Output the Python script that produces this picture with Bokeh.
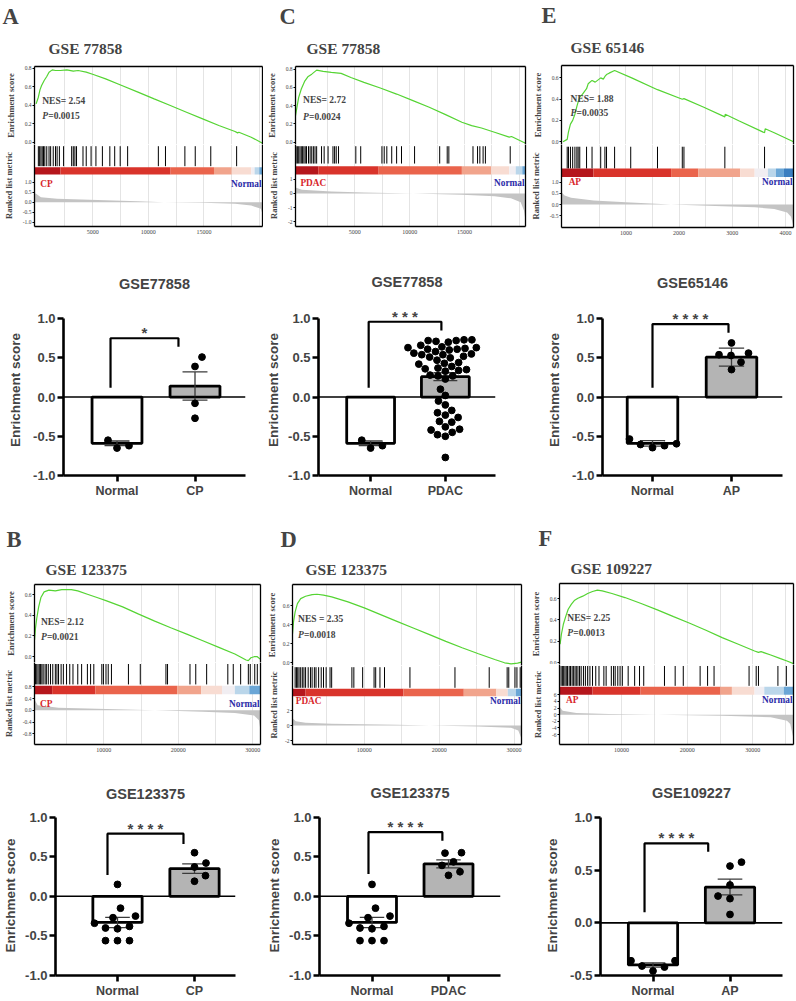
import math
from bokeh.plotting import figure
from bokeh.layouts import row, column
from bokeh.models import (Range1d, LinearAxis, FixedTicker, Title, Label, Grid, Span,
                          PrintfTickFormatter)
from bokeh.embed import file_html
from bokeh.resources import INLINE

# ======================= DATA =======================
# --- GSEA panel A (GSE 77858, CP vs Normal)
A_es_x = [-87, 116, 262, 407, 640, 872, 1076, 1366, 1657, 2093, 2674, 3256, 3692, 4419, 5058, 6163, 7616,
          9070, 10523, 11977, 13430, 14884, 16337, 17791, 18024, 18140, 19244, 20262]
A_es_y = [0.414, 0.486, 0.566, 0.613, 0.667, 0.710, 0.757, 0.782, 0.775, 0.775, 0.782, 0.768, 0.775, 0.757,
          0.732, 0.685, 0.613, 0.541, 0.468, 0.396, 0.324, 0.252, 0.180, 0.115, 0.101, 0.108, 0.054, -0.011]
A_hits = [116, 233, 349, 465, 581, 698, 872, 1076, 1221, 1454, 1657, 1802, 2006, 2384, 3110, 3256, 3401, 3547,
          4128, 4419, 4855, 5291, 5872, 6541, 6977, 7471, 8140, 10901, 11541, 13285, 14215, 15611, 17936]
A_rank_x = [-230, -87, 349, 1802, 4709, 9070, 11395, 14884, 17791, 19244, 20116, 20262]
A_rank_y = [0.45, 0.42, 0.25, 0.17, 0.12, 0.05, 0.0, -0.03, -0.08, -0.17, -0.33, -0.6]
A_cb_edges = [-230, 2100, 12000, 15900, 17500, 19250, 19550, 19970, 20260]

# --- GSEA panel C (GSE 77858, PDAC vs Normal)
C_es_x = [-410, -268, -119, 119, 417, 714, 1071, 1518, 2113, 2857, 3750, 4643, 5833, 7321, 8809, 10297,
          11785, 13273, 14761, 15654, 16547, 17737, 19076, 19284, 20560]
C_es_y = [0.291, 0.389, 0.491, 0.582, 0.665, 0.716, 0.745, 0.789, 0.775, 0.764, 0.753, 0.709, 0.655, 0.593,
          0.527, 0.455, 0.382, 0.302, 0.218, 0.182, 0.156, 0.109, 0.055, 0.062, -0.011]
C_hits = [-357, -238, -119, 0, 119, 238, 357, 476, 595, 774, 923, 1071, 1220, 1369, 1518, 1964, 2202, 2559,
          3006, 3155, 3303, 3512, 5089, 5535, 7470, 7678, 7916, 8363, 8809, 9255, 10446, 12737, 13422, 13571,
          15773, 16189, 16398, 16695, 16904, 19166]
C_rank_x = [-410, 180, 2860, 5830, 10300, 14760, 17740, 19230, 20120, 20420, 20560]
C_rank_y = [0.42, 0.26, 0.14, 0.07, 0.0, -0.09, -0.2, -0.35, -0.63, -1.2, -1.9]
C_cb_edges = [-410, 1670, 7170, 14760, 17440, 19080, 19670, 20270, 20560]

# --- GSEA panel E (GSE 65146, AP vs Normal)
E_es_x = [-182, -103, -79, -42, 0, 42, 79, 103, 133, 182, 261, 291, 364, 424, 527, 576, 606, 636, 685, 788,
          1109, 1594, 2060, 2091, 2454, 2860, 2866, 3121, 3606, 3618, 3788, 4150]
E_es_y = [0.0, 0.022, 0.093, 0.165, 0.20, 0.258, 0.332, 0.373, 0.419, 0.444, 0.497, 0.543, 0.575, 0.559,
          0.599, 0.587, 0.612, 0.630, 0.643, 0.668, 0.599, 0.488, 0.398, 0.404, 0.326, 0.233, 0.258, 0.196,
          0.084, 0.121, 0.084, 0.0]
E_hits = [-103, -79, -42, 0, 42, 79, 103, 133, 261, 364, 527, 606, 636, 788, 1091, 1594, 2060, 2091, 2860, 3606]
E_rank_x = [-210, -152, -30, 394, 1000, 1848, 2818, 3424, 3788, 4030, 4103, 4150]
E_rank_y = [0.55, 0.4, 0.3, 0.18, 0.1, 0.0, -0.075, -0.12, -0.2, -0.35, -0.54, -1.0]
E_cb_edges = [-210, 390, 1850, 2360, 3150, 3420, 3670, 3820, 3970, 4150]

# --- GSEA panel B (GSE 123375, CP vs Normal)
B_es_x = [710, 839, 1011, 1269, 1570, 2000, 2645, 3505, 4366, 5656, 6516, 7806, 9097, 10387, 12538, 14688,
          16839, 18989, 21140, 23290, 25441, 27591, 29097, 29398, 29742, 30172, 30602, 31030]
B_es_y = [0.160, 0.273, 0.369, 0.481, 0.571, 0.626, 0.642, 0.635, 0.648, 0.648, 0.635, 0.603, 0.571, 0.539,
          0.481, 0.411, 0.343, 0.279, 0.218, 0.154, 0.090, 0.026, -0.032, -0.038, -0.010, 0.0, 0.0, -0.026]
B_hits = [839, 1011, 1183, 1355, 1527, 1699, 1871, 2129, 2301, 2559, 2860, 3161, 3505, 3720, 3935, 4280, 4581,
          5011, 5441, 5871, 6516, 7032, 7806, 8236, 8667, 9742, 9957, 10301, 10602, 11032, 13312, 14903, 18344,
          18559, 21570, 22344, 23806, 26645, 27376, 28366, 29398, 29656, 30258, 30602]
B_rank_x = [710, 1140, 3935, 10387, 16839, 23290, 27591, 30172, 30817, 31030]
B_rank_y = [0.37, 0.17, 0.09, 0.046, 0.0, -0.046, -0.09, -0.18, -0.34, -0.69]
B_cb_edges = [710, 3080, 8880, 19850, 23080, 25870, 27590, 29530, 31030]

# --- GSEA panel D (GSE 123375, PDAC vs Normal)
D_es_x = [414, 544, 762, 1068, 1503, 2157, 3028, 3682, 4553, 5642, 7820, 10000, 12180, 14358, 16537, 18715,
          20893, 23072, 25250, 27428, 28736, 29607, 30478, 31000]
D_es_y = [0.307, 0.431, 0.537, 0.625, 0.678, 0.703, 0.721, 0.724, 0.714, 0.696, 0.643, 0.580, 0.509, 0.438,
          0.367, 0.297, 0.226, 0.159, 0.095, 0.035, 0.0, -0.011, -0.004, 0.007]
D_hits = [762, 936, 1111, 1285, 1503, 1721, 1939, 2157, 2505, 2810, 3028, 3333, 3551, 3900, 4248, 4553, 4902,
          5425, 5642, 8344, 8605, 9781, 11306, 11524, 12090, 12700, 16099, 22111, 26686, 29082, 29300, 30128,
          30389, 30825]
D_rank_x = [414, 850, 2157, 5642, 14358, 18715, 25250, 29607, 30566, 31000]
D_rank_y = [0.98, 0.58, 0.36, 0.22, 0.09, 0.0, -0.13, -0.31, -0.67, -1.78]
D_cb_edges = [410, 2160, 15230, 23290, 27640, 29170, 30260, 31000]

# --- GSEA panel F (GSE 109227, AP vs Normal)
F_es_x = [642, 839, 1136, 1530, 1876, 2369, 2863, 3357, 4097, 4838, 5578, 6318, 7059, 8540, 10515, 12983,
          15452, 17920, 20388, 22857, 25325, 27793, 30262, 30854, 31249, 32730, 34210, 35198, 36185]
F_es_y = [0.172, 0.266, 0.359, 0.438, 0.50, 0.547, 0.584, 0.603, 0.622, 0.647, 0.666, 0.678, 0.672, 0.647,
          0.609, 0.553, 0.494, 0.431, 0.369, 0.303, 0.234, 0.172, 0.109, 0.097, 0.103, 0.072, 0.038, 0.016, -0.009]
F_hits = [790, 988, 1185, 1382, 1580, 1777, 2024, 2221, 2468, 2665, 2912, 3110, 3357, 3604, 3850, 4196, 4492,
          4838, 5184, 5579, 6073, 6566, 7307, 7652, 8442, 8787, 9034, 9429, 9775, 10120, 11009, 11996, 12737,
          13379, 16538, 18167, 19401, 21968, 23104, 24091, 29422, 30508, 30854, 33816, 35100]
F_rank_x = [550, 642, 1037, 3110, 8047, 15452, 25325, 32730, 35198, 35692, 36185]
F_rank_y = [2.4, 2.2, 1.2, 0.5, 0.2, 0.0, -0.3, -0.8, -1.8, -2.8, -7.3]
F_cb_edges = [550, 5580, 12890, 25080, 26810, 30260, 31740, 34710, 36190]

NES = {"A": "2.54", "C": "2.72", "E": "1.88", "B": "2.12", "D": "2.35", "F": "2.25"}
PVAL = {"A": "0.0015", "C": "0.0024", "E": "0.0035", "B": "0.0021", "D": "0.0018", "F": "0.0013"}

# --- Bar charts: enrichment score per sample
A_normal = [-0.65, -0.55, -0.62]
A_cp = [0.51, 0.39, -0.08, -0.27]
A_means = [-0.59, 0.14]
A_err = [0.03, 0.18]

C_normal = [-0.65, -0.55, -0.62]
C_pdac = [0.73, 0.73, 0.72, 0.72, 0.71, 0.70, 0.66, 0.64, 0.63, 0.63, 0.62, 0.61, 0.61, 0.60, 0.58, 0.56,
          0.55, 0.54, 0.54, 0.52, 0.51, 0.50, 0.47, 0.44, 0.43, 0.42, 0.39, 0.37, 0.36, 0.35, 0.34, 0.33,
          0.28, 0.27, 0.27, 0.23, 0.10, 0.02, -0.05, -0.10, -0.17, -0.20, -0.23, -0.26, -0.31, -0.32, -0.38,
          -0.41, -0.42, -0.45, -0.48, -0.50, -0.77]
C_means = [-0.59, 0.26]
C_err = [0.03, 0.05]

E_normal = [-0.535, -0.645, -0.595, -0.62, -0.605]
E_ap = [0.69, 0.54, 0.56, 0.53, 0.445, 0.35]
E_means = [-0.59, 0.51]
E_err = [0.035, 0.115]

B_normal = [-0.27, -0.41, -0.56, -0.25, -0.38, 0.15, -0.15, -0.34, -0.56, -0.40, -0.56]
B_cp = [0.19, 0.42, 0.55, 0.37, 0.26]
B_means = [-0.33, 0.35]
B_err = [0.065, 0.06]

D_normal = [-0.27, -0.41, -0.56, -0.25, -0.38, 0.15, -0.15, -0.34, -0.56, -0.40, -0.56]
D_pdac = [0.55, 0.265, 0.39, 0.545, 0.435, 0.31]
D_means = [-0.33, 0.41]
D_err = [0.065, 0.05]

F_normal = [-0.36, -0.457, -0.36, -0.42, -0.41]
F_ap = [0.577, 0.54, 0.36, 0.255, 0.23, 0.08]
F_means = [-0.40, 0.34]
F_err = [0.02, 0.075]

# ======================= STYLE / LAYOUT =======================
S = 1.0
SERIF = "Liberation Serif"
SANS = "Liberation Sans"
TITLE_SHIFT = 7   # bokeh pads left-aligned titles by a few px


def fs(v):
    return f"{v * S:.1f}px"


def R(v):
    return int(round(v * S))


DR, RD, LR, SA, PA, WH, LB, MB, BL = ("#b5161c", "#d9342b", "#ea644c", "#f1a48c", "#f8dcd2",
                                      "#f1eef2", "#bad6ea", "#6aa6d6", "#3b7fc0")
GREEN = "#55d433"
UPRED = "#d8262b"
DNBLUE = "#2a2aa8"


def edge_axis(p, side, lo, hi):
    ax = LinearAxis(ticker=FixedTicker(ticks=[(lo + hi) / 2.0]), major_tick_out=0, major_tick_in=0,
                    minor_tick_out=0, minor_tick_in=0, major_label_text_font_size="1px",
                    major_label_text_alpha=0, major_label_standoff=0, axis_line_width=1.3,
                    axis_line_color="black")
    p.add_layout(ax, side)


def style_gsea_y(ax, ticks, fmt, label, standoff):
    ax.ticker = FixedTicker(ticks=ticks)
    ax.formatter = PrintfTickFormatter(format=fmt)
    ax.major_label_text_font = SERIF
    ax.major_label_text_font_size = fs(5.5)
    ax.major_tick_out = 2
    ax.major_tick_in = 0
    ax.minor_tick_out = 0
    ax.minor_tick_in = 0
    ax.major_label_standoff = 1
    ax.axis_line_width = 1.3
    ax.axis_label = label
    ax.axis_label_text_font = SERIF
    ax.axis_label_text_font_style = "bold"
    ax.axis_label_text_font_size = fs(8.5)
    ax.axis_label_standoff = standoff


def gsea_panel(g):
    (cx0, cx1), (cy0, cy1) = g["cell_x"], g["cell_y"]
    W = R(cx1) - R(cx0)
    Hrow = R(cy1) - R(cy0)
    top_h = R(g["split"]) - R(cy0)
    bot_h = Hrow - top_h
    bl = R(g["box_l"]) - R(cx0)
    br = R(cx1) - R(g["box_r"])
    bt = R(g["box_top"]) - R(cy0)
    bb = R(cy1) - R(g["box_bot"])
    es0, esp = g["es0"], g["es_ppu"]
    r0, rp = g["rank0"], g["rank_ppu"]
    x0, x1 = g["xr"]

    def xd(px):
        return x0 + (px - g["box_l"]) / (g["box_r"] - g["box_l"]) * (x1 - x0)

    def ye(py):
        return (es0 - py) / esp

    def yr(py):
        return (r0 - py) / rp

    xrng = Range1d(x0, x1)
    grid_ticks = [v for v in range(g["grid_step"], int(x1), g["grid_step"])]
    es_lo, es_hi = ye(g["split"]), ye(g["box_top"])
    rk_lo, rk_hi = yr(g["box_bot"]), yr(g["split"])

    # ---- top: running enrichment score
    p = figure(width=W, height=top_h, x_range=xrng, y_range=Range1d(es_lo, es_hi),
               title=None, min_border_left=bl, min_border_right=br, min_border_top=bt, min_border_bottom=0,
               toolbar_location=None, output_backend="svg", x_axis_location=None,
               outline_line_color=None)
    p.grid.visible = False
    p.add_layout(Grid(dimension=0, ticker=FixedTicker(ticks=grid_ticks), grid_line_color="#e4e4e4",
                      grid_line_width=1))
    style_gsea_y(p.yaxis[0], g["es_ticks"], "%.1f", "Enrichment score", g["lab_standoff"])
    edge_axis(p, "right", es_lo, es_hi)
    edge_axis(p, "above", x0, x1)
    p.add_layout(Title(text=g["title"], align="left", offset=R(g["title_x"] - g["box_l"]) - TITLE_SHIFT,
                       text_font=SERIF, text_font_style="bold", text_font_size=fs(15.5),
                       standoff=g["title_standoff"]), "above")
    p.add_layout(Title(text=g["letter"], align="left", offset=R(g["letter_x"] - g["box_l"]) - TITLE_SHIFT,
                       text_font=SERIF, text_font_style="bold", text_font_size=fs(22.5),
                       standoff=g["letter_standoff"]), "above")
    p.line(g["es_x"], g["es_y"], line_color=GREEN, line_width=1.2)
    nx, ny = g["nes_px"]
    p.add_layout(Label(x=xd(nx), y=ye(ny), text=g["nes_text"] + NES[g["letter"]], text_font=SERIF,
                       text_font_style="bold", text_font_size=fs(9.5), text_baseline="middle"))
    px_, py_ = g["p_px"]
    p.add_layout(Label(x=xd(px_), y=ye(py_), text="P", text_font=SERIF, text_font_style="bold italic",
                       text_font_size=fs(9.5), text_baseline="middle"))
    p.add_layout(Label(x=xd(px_), y=ye(py_), x_offset=R(5.8), text="=" + PVAL[g["letter"]], text_font=SERIF,
                       text_font_style="bold", text_font_size=fs(9.5), text_baseline="middle"))

    # ---- bottom: hits, colour bar, ranked list metric
    q = figure(width=W, height=bot_h, x_range=xrng, y_range=Range1d(rk_lo, rk_hi),
               title=None, min_border_left=bl, min_border_right=br, min_border_top=0, min_border_bottom=bb,
               toolbar_location=None, output_backend="svg", outline_line_color=None)
    q.grid.visible = False
    q.add_layout(Grid(dimension=0, ticker=FixedTicker(ticks=grid_ticks), grid_line_color="#e4e4e4",
                      grid_line_width=1))
    q.varea(x=g["rank_x"], y1=0, y2=g["rank_y"], fill_color="#c4c4c4")
    hits = g["hits"]
    q.segment(x0=hits, y0=[yr(g["hit_bot"])] * len(hits), x1=hits, y1=[yr(g["hit_top"])] * len(hits),
              line_color="black", line_width=1)
    edges = g["cb_edges"]
    q.quad(left=edges[:-1], right=edges[1:], bottom=yr(g["cb_bot"]), top=yr(g["cb_top"]),
           fill_color=g["cb_colors"], line_color=None)
    xa = q.xaxis[0]
    xa.ticker = FixedTicker(ticks=g["x_ticks"])
    xa.formatter = PrintfTickFormatter(format="%d")
    xa.major_label_text_font = SERIF
    xa.major_label_text_font_size = fs(6)
    xa.major_tick_out = 0
    xa.major_tick_in = 0
    xa.minor_tick_out = 0
    xa.minor_tick_in = 0
    xa.major_label_standoff = 3
    xa.axis_line_width = 1.3
    style_gsea_y(q.yaxis[0], g["rank_ticks"], g["rank_fmt"], "Ranked list metric", g["lab_standoff"])
    edge_axis(q, "right", rk_lo, rk_hi)
    ux, uy = g["up_px"]
    q.add_layout(Label(x=xd(ux), y=yr(uy), text=g["up"], text_font=SERIF, text_font_style="bold",
                       text_font_size=fs(9.3), text_color=UPRED, text_baseline="middle"))
    q.add_layout(Label(x=x1, y=yr(uy), x_offset=-1, text="Normal", text_font=SERIF, text_font_style="bold",
                       text_font_size=fs(9.3), text_color=DNBLUE, text_baseline="middle", text_align="right"))
    return column(p, q, spacing=0)


def swarm(vals, ppy, ppx, d=8.0):
    idx = sorted(range(len(vals)), key=lambda i: vals[i])
    placed = []
    offs = [0.0] * len(vals)
    for n, i in enumerate(idx):
        y = vals[i] * ppy
        k = 0
        best = None
        while best is None:
            if k == 0:
                cands = [0.0]
            else:
                cands = [k * 0.5, -k * 0.5] if n % 2 else [-k * 0.5, k * 0.5]
            for c in cands:
                if all((c - a) ** 2 + (y - b) ** 2 >= d * d - 1e-6 for a, b in placed):
                    best = c
                    break
            k += 1
        placed.append((best, y))
        offs[i] = best / ppx
    return offs


def bar_panel(b):
    (cx0, cx1), (cy0, cy1) = b["cell_x"], b["cell_y"]
    W = R(cx1) - R(cx0)
    H = R(cy1) - R(cy0)
    ppy = b["ppu"]
    ylo, yhi = b["ylim"]
    ftop = b["y1px"] - (yhi - 1.0) * ppy
    fbot = b["y1px"] + (1.0 - ylo) * ppy
    bl = R(b["axis_x"]) - R(cx0)
    br = R(cx1) - R(b["frame_r"])
    bt = R(ftop) - R(cy0)
    bb = R(cy1) - R(fbot)
    c1, c2 = b["cx"]
    ppx = c2 - c1
    xs = 1 - (c1 - b["axis_x"]) / ppx
    xe = 2 + (b["frame_r"] - c2) / ppx
    title_fs = 14.5
    # title text is centred in its panel (panel height = standoff + text height)
    t_standoff = max(0, int(round(2 * (ftop - b["title_y"]) - 1.11 * title_fs)))

    p = figure(width=W, height=H, x_range=Range1d(xs, xe), y_range=Range1d(ylo, yhi), title=None,
               min_border_left=bl, min_border_right=br, min_border_top=bt, min_border_bottom=bb,
               toolbar_location=None, output_backend="svg", outline_line_color=None)
    p.grid.visible = False
    p.add_layout(Title(text=b["title"], align="center", text_font=SANS, text_font_style="bold",
                       text_font_size=fs(title_fs), standoff=t_standoff), "above")
    ya = p.yaxis[0]
    ya.ticker = FixedTicker(ticks=b["yticks"])
    ya.formatter = PrintfTickFormatter(format="%.1f")
    ya.bounds = (ylo, 1.0)
    ya.axis_line_width = 2.6
    ya.major_tick_line_width = 2.6
    ya.major_tick_out = 6
    ya.major_tick_in = 0
    ya.minor_tick_out = 0
    ya.minor_tick_in = 0
    ya.major_label_text_font = SANS
    ya.major_label_text_font_style = "bold"
    ya.major_label_text_font_size = fs(13)
    ya.major_label_standoff = 2
    ya.axis_label = "Enrichment score"
    ya.axis_label_text_font = SANS
    ya.axis_label_text_font_style = "bold"
    ya.axis_label_text_font_size = fs(13.5)
    ya.axis_label_standoff = b["lab_standoff"]
    xa = p.xaxis[0]
    xa.ticker = FixedTicker(ticks=[1, 2])
    xa.major_label_overrides = {1: b["cats"][0], 2: b["cats"][1]}
    xa.axis_line_width = 2.6
    xa.major_tick_line_width = 2.6
    xa.major_tick_out = 6
    xa.major_tick_in = 0
    xa.minor_tick_out = 0
    xa.minor_tick_in = 0
    xa.major_label_text_font = SANS
    xa.major_label_text_font_style = "bold"
    xa.major_label_text_font_size = fs(12.5)
    xa.major_label_standoff = 2

    p.add_layout(Span(location=0, dimension="width", line_color="black", line_width=1.6))
    means, errs = b["means"], b["errs"]
    p.vbar(x=[1, 2], top=means, bottom=0, width=0.64, fill_color=["white", "#b4b4b4"],
           line_color="black", line_width=2.8)
    lo = [m - e for m, e in zip(means, errs)]
    hi = [m + e for m, e in zip(means, errs)]
    p.segment(x0=[1, 2], y0=lo, x1=[1, 2], y1=hi, line_color="#3a3a3a", line_width=1.3)
    cw = 0.16
    for yy in (lo, hi):
        p.segment(x0=[1 - cw, 2 - cw], y0=yy, x1=[1 + cw, 2 + cw], y1=yy, line_color="#3a3a3a",
                  line_width=1.3)
    for k, vals in enumerate(b["groups"]):
        spacing = 12.0 if len(vals) < 15 else 8.0
        offs = swarm(vals, ppy, ppx, d=spacing)
        p.scatter([k + 1 + o for o in offs], vals, size=6.8 * S, fill_color="black", line_color="black")
    xl, xr_, yl, yt, yrr = b["bracket"]
    p.line([xl, xl, xr_, xr_], [yl, yt, yt, yrr], line_color="black", line_width=2.2)
    p.add_layout(Label(x=(xl + xr_) / 2, y=b["star_y"], y_offset=-3, text=b["stars"], text_align="center",
                       text_baseline="middle", text_font=SANS, text_font_style="bold",
                       text_font_size=fs(15)))
    return p


COLS = [0, 263, 527, 796]
ROWS = [0, 240, 503, 762, 1000]

# title text is centred in a panel of height standoff + ~1.11*fontsize stacked above the frame
gA = dict(letter="A", title="GSE 77858", up="CP", cell_x=(COLS[0], COLS[1]), cell_y=(ROWS[0], ROWS[1]),
          box_l=27, box_r=262, box_top=66, split=144, box_bot=226, es0=141.7, es_ppu=92.5,
          hit_top=145.7, hit_bot=165.7, cb_top=166.7, cb_bot=174, rank0=201.7, rank_ppu=20,
          xr=(-230, 20260), es_ticks=[0, 0.2, 0.4, 0.6, 0.8], rank_ticks=[-1, -0.5, 0, 0.5, 1], rank_fmt="%.1f",
          x_ticks=[5000, 10000, 15000], grid_step=2500, title_x=48, letter_x=2, title_standoff=19,
          letter_standoff=0, nes_px=(35, 100), p_px=(35, 115), up_px=(33, 183), nes_text="NES= ",
          lab_standoff=6, es_x=A_es_x, es_y=A_es_y, hits=A_hits, rank_x=A_rank_x, rank_y=A_rank_y,
          cb_edges=A_cb_edges, cb_colors=[DR, RD, LR, SA, PA, WH, LB, MB])
gC = dict(letter="C", title="GSE 77858", up="PDAC", cell_x=(COLS[1], COLS[2]), cell_y=(ROWS[0], ROWS[1]),
          box_l=290, box_r=525, box_top=65.7, split=144, box_bot=225.7, es0=141.7, es_ppu=91.7,
          hit_top=145.7, hit_bot=163, cb_top=165.7, cb_bot=174, rank0=192.7, rank_ppu=14.17,
          xr=(-410, 20560), es_ticks=[0, 0.2, 0.4, 0.6, 0.8], rank_ticks=[-2, -1, 0, 1], rank_fmt="%d",
          x_ticks=[5000, 10000, 15000], grid_step=2500, title_x=308.3, letter_x=280.7, title_standoff=19,
          letter_standoff=0, nes_px=(297.7, 99.3), p_px=(297.7, 116), up_px=(295, 182.7), nes_text="NES= ",
          lab_standoff=6, es_x=C_es_x, es_y=C_es_y, hits=C_hits, rank_x=C_rank_x, rank_y=C_rank_y,
          cb_edges=C_cb_edges, cb_colors=[DR, RD, LR, SA, PA, WH, LB, MB])
gE = dict(letter="E", title="GSE 65146", up="AP", cell_x=(COLS[2], COLS[3]), cell_y=(ROWS[0], ROWS[1]),
          box_l=553.3, box_r=793.3, box_top=65, split=144.5, box_bot=226.7, es0=141.7, es_ppu=107.3,
          hit_top=146.7, hit_bot=168.3, cb_top=168.3, cb_bot=176.7, rank0=204, rank_ppu=22.2,
          xr=(-210, 4150), es_ticks=[0, 0.2, 0.4, 0.6], rank_ticks=[-0.5, 0, 0.5, 1], rank_fmt="%.1f",
          x_ticks=[1000, 2000, 3000, 4000], grid_step=500, title_x=569.3, letter_x=540, title_standoff=19,
          letter_standoff=0, nes_px=(562.7, 98.3), p_px=(562.7, 113.3), up_px=(560.7, 181.7), nes_text="NES= ",
          lab_standoff=6, es_x=E_es_x, es_y=E_es_y, hits=E_hits, rank_x=E_rank_x, rank_y=E_rank_y,
          cb_edges=E_cb_edges, cb_colors=[DR, RD, LR, SA, PA, WH, LB, MB, BL])
gB = dict(letter="B", title="GSE 123375", up="CP", cell_x=(COLS[0], COLS[1]), cell_y=(ROWS[2], ROWS[3]),
          box_l=25, box_r=260, box_top=584.3, split=662.5, box_bot=744, es0=656.7, es_ppu=103.9,
          hit_top=664, hit_bot=684.3, cb_top=685.7, cb_bot=694, rank0=710, rank_ppu=29.2,
          xr=(710, 31030), es_ticks=[0, 0.2, 0.4, 0.6], rank_ticks=[-0.8, -0.4, 0, 0.4, 0.8], rank_fmt="%.1f",
          x_ticks=[10000, 20000, 30000], grid_step=5000, title_x=42.7, letter_x=4, title_standoff=14,
          letter_standoff=0, nes_px=(31.7, 622.3), p_px=(31.7, 636.7), up_px=(30.7, 703.3), nes_text="NES= ",
          lab_standoff=6, es_x=B_es_x, es_y=B_es_y, hits=B_hits, rank_x=B_rank_x, rank_y=B_rank_y,
          cb_edges=B_cb_edges, cb_colors=[DR, RD, LR, SA, PA, WH, LB, MB])
gD = dict(letter="D", title="GSE 123375", up="PDAC", cell_x=(COLS[1], COLS[2]), cell_y=(ROWS[2], ROWS[3]),
          box_l=286, box_r=520.7, box_top=584.3, split=665, box_bot=744, es0=662.3, es_ppu=94.3,
          hit_top=666.7, hit_bot=687.3, cb_top=688.3, cb_bot=695.7, rank0=725, rank_ppu=7.5,
          xr=(410, 31000), es_ticks=[0, 0.2, 0.4, 0.6], rank_ticks=[-2, 0, 2], rank_fmt="%d",
          x_ticks=[10000, 20000, 30000], grid_step=5000, title_x=305.7, letter_x=280.7, title_standoff=14,
          letter_standoff=0, nes_px=(291.7, 618.3), p_px=(291.7, 634.3), up_px=(289.3, 700.7), nes_text="NES = ",
          lab_standoff=3, es_x=D_es_x, es_y=D_es_y, hits=D_hits, rank_x=D_rank_x, rank_y=D_rank_y,
          cb_edges=D_cb_edges, cb_colors=[DR, RD, LR, SA, PA, LB, MB])
gF = dict(letter="F", title="GSE 109227", up="AP", cell_x=(COLS[2], COLS[3]), cell_y=(ROWS[2], ROWS[3]),
          box_l=552.7, box_r=793.3, box_top=582.7, split=663.5, box_bot=744, es0=661.7, es_ppu=106.7,
          hit_top=665, hit_bot=685, cb_top=686, cb_bot=694, rank0=714, rank_ppu=3.33,
          xr=(550, 36190), es_ticks=[0, 0.2, 0.4, 0.6], rank_ticks=[-6, -4, -2, 0, 2, 4, 6], rank_fmt="%d",
          x_ticks=[10000, 20000, 30000], grid_step=5000, title_x=570.7, letter_x=538.3, title_standoff=14,
          letter_standoff=0, nes_px=(560.7, 616.7), p_px=(560.7, 631.7), up_px=(559.3, 699.3), nes_text="NES= ",
          lab_standoff=6, es_x=F_es_x, es_y=F_es_y, hits=F_hits, rank_x=F_rank_x, rank_y=F_rank_y,
          cb_edges=F_cb_edges, cb_colors=[DR, RD, LR, SA, PA, WH, LB, MB])

bA = dict(title="GSE77858", cats=["Normal", "CP"], cell_x=(COLS[0], COLS[1]), cell_y=(ROWS[1], ROWS[2]),
          axis_x=63, frame_r=245, y1px=316, ppu=81.5, ylim=(-1.0, 1.18), yticks=[-1, -0.5, 0, 0.5, 1],
          cx=(116.5, 194.5), means=A_means, errs=A_err, groups=[A_normal, A_cp], title_y=281,
          bracket=(0.917, 1.788, 0.12, 0.75, 0.64), star_y=0.86, stars="*", lab_standoff=7)
bC = dict(title="GSE77858", cats=["Normal", "PDAC"], cell_x=(COLS[1], COLS[2]), cell_y=(ROWS[1], ROWS[2]),
          axis_x=315, frame_r=495, y1px=318, ppu=80.5, ylim=(-1.0, 1.18), yticks=[-1, -0.5, 0, 0.5, 1],
          cx=(368, 444), means=C_means, errs=C_err, groups=[C_normal, C_pdac], title_y=281,
          bracket=(0.974, 1.947, 0.12, 0.96, 0.85), star_y=1.06, stars="* * *", lab_standoff=4)
bE = dict(title="GSE65146", cats=["Normal", "AP"], cell_x=(COLS[2], COLS[3]), cell_y=(ROWS[1], ROWS[2]),
          axis_x=602, frame_r=782, y1px=312, ppu=81.5, ylim=(-1.0, 1.18), yticks=[-1, -0.5, 0, 0.5, 1],
          cx=(652, 731), means=E_means, errs=E_err, groups=[E_normal, E_ap], title_y=276,
          bracket=(1.0, 1.962, 0.12, 0.93, 0.82), star_y=1.04, stars="* * * *", lab_standoff=7)
bB = dict(title="GSE123375", cats=["Normal", "CP"], cell_x=(COLS[0], COLS[1]), cell_y=(ROWS[3], ROWS[4]),
          axis_x=55, frame_r=235, y1px=817, ppu=80, ylim=(-1.0, 1.02), yticks=[-1, -0.5, 0, 0.5, 1],
          cx=(117, 194), means=B_means, errs=B_err, groups=[B_normal, B_cp], title_y=793.5,
          bracket=(0.87, 1.857, 0.27, 0.79, 0.66), star_y=0.89, stars="* * * *", lab_standoff=4)
bD = dict(title="GSE123375", cats=["Normal", "PDAC"], cell_x=(COLS[1], COLS[2]), cell_y=(ROWS[3], ROWS[4]),
          axis_x=319, frame_r=500, y1px=815, ppu=81, ylim=(-1.0, 1.02), yticks=[-1, -0.5, 0, 0.5, 1],
          cx=(371.5, 448), means=D_means, errs=D_err, groups=[D_normal, D_pdac], title_y=791,
          bracket=(0.954, 1.92, 0.28, 0.81, 0.70), star_y=0.92, stars="* * * *", lab_standoff=4)
bF = dict(title="GSE109227", cats=["Normal", "AP"], cell_x=(COLS[2], COLS[3]), cell_y=(ROWS[3], ROWS[4]),
          axis_x=600, frame_r=782, y1px=814, ppu=108.7, ylim=(-0.5, 1.02), yticks=[-0.5, 0, 0.5, 1],
          cx=(652.5, 729.5), means=F_means, errs=F_err, groups=[F_normal, F_ap], title_y=789,
          bracket=(0.89, 1.717, 0.10, 0.755, 0.675), star_y=0.84, stars="* * * *", lab_standoff=7)

layout = column(
    row(gsea_panel(gA), gsea_panel(gC), gsea_panel(gE), spacing=0),
    row(bar_panel(bA), bar_panel(bC), bar_panel(bE), spacing=0),
    row(gsea_panel(gB), gsea_panel(gD), gsea_panel(gF), spacing=0),
    row(bar_panel(bB), bar_panel(bD), bar_panel(bF), spacing=0),
    spacing=0,
)

open("out.html", "w").write(file_html(layout, INLINE, title="GSEA enrichment"))
